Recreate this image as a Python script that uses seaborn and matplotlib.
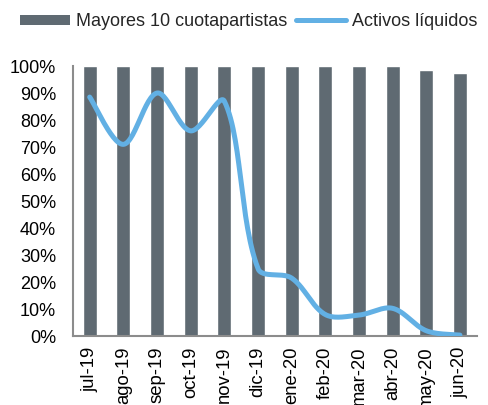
import numpy as np
import pandas as pd
import matplotlib
matplotlib.use("Agg")
import matplotlib.pyplot as plt
from matplotlib.patches import Patch
from matplotlib.lines import Line2D
import seaborn as sns

sns.set_style("white")
plt.rcParams['font.family'] = ['Liberation Sans', 'DejaVu Sans']

# Datos
meses = ['jul-19', 'ago-19', 'sep-19', 'oct-19', 'nov-19', 'dic-19',
         'ene-20', 'feb-20', 'mar-20', 'abr-20', 'may-20', 'jun-20']
mayores_10 = [1.00, 1.00, 1.00, 1.00, 1.00, 1.00, 1.00, 1.00, 1.00, 1.00, 0.986, 0.973]
activos_liquidos = [0.885, 0.71, 0.90, 0.76, 0.87, 0.25, 0.215, 0.08, 0.078, 0.103, 0.02, 0.004]

color_barra = '#5f6a72'
color_linea = '#62b0e4'


def suavizar(y, sx=33.7, sy=270.0, n=30):
    # curva suavizada parecida a la de Excel (bezier con tangentes
    # ponderadas por la longitud de cada tramo, medida en pixeles)
    y = np.asarray(y, dtype=float)
    P = np.column_stack([np.arange(len(y)) * sx, y * sy])
    m = len(P)
    xs, ys = [], []
    for i in range(m - 1):
        p0 = P[max(i - 1, 0)]
        p1 = P[i]
        p2 = P[i + 1]
        p3 = P[min(i + 2, m - 1)]
        d01 = np.linalg.norm(p1 - p0)
        d12 = np.linalg.norm(p2 - p1)
        d23 = np.linalg.norm(p3 - p2)
        w1 = d12 / (d01 + d12) if d01 > 0 else 0.5
        w2 = d12 / (d12 + d23) if d23 > 0 else 0.5
        c1 = p1 + (p2 - p0) * w1 / 3
        c2 = p2 - (p3 - p1) * w2 / 3
        t = np.linspace(0, 1, n)[:, None]
        pts = ((1 - t) ** 3) * p1 + 3 * ((1 - t) ** 2) * t * c1 + 3 * (1 - t) * t ** 2 * c2 + t ** 3 * p2
        xs.extend(pts[:, 0] / sx)
        ys.extend(pts[:, 1] / sy)
    return np.array(xs), np.array(ys)


df = pd.DataFrame({'mes': meses, 'mayores': mayores_10, 'activos': activos_liquidos})

fig = plt.figure(figsize=(4.89, 4.05), dpi=100)
ax = fig.add_axes([0.149, 0.170, 0.826, 0.667])

sns.barplot(data=df, x='mes', y='mayores', color=color_barra, width=0.42,
            saturation=1, ax=ax)
xs, ys = suavizar(df['activos'])
ax.plot(xs, ys, color=color_linea, lw=3.6, solid_capstyle='round', zorder=3)

ax.set_ylim(0, 1)
ax.set_xlim(-0.5, len(meses) - 0.5)
ax.set_yticks(np.arange(0, 1.01, 0.1))
ax.set_yticklabels([f'{int(round(v * 100))}%' for v in np.arange(0, 1.01, 0.1)])
ax.set_xticks(range(len(meses)))
ax.set_xticklabels(meses, rotation=90)
ax.tick_params(axis='both', length=0, colors='black')
ax.tick_params(axis='x', pad=7.5, labelsize=13.3)
ax.tick_params(axis='y', pad=12, labelsize=13)
ax.set_xlabel('')
ax.set_ylabel('')

for s in ['top', 'right']:
    ax.spines[s].set_visible(False)
for s in ['left', 'bottom']:
    ax.spines[s].set_color('#8c8c8c')
    ax.spines[s].set_linewidth(1.5)

handles = [Patch(facecolor=color_barra, edgecolor='none'),
           Line2D([0], [0], color=color_linea, lw=3.6, solid_capstyle='round')]
fig.legend(handles, ['Mayores 10 cuotapartistas', 'Activos líquidos'],
           loc='center', bbox_to_anchor=(0.508, 0.946), ncol=2, frameon=False,
           fontsize=13, handlelength=2.8, handleheight=0.55, handletextpad=0.3,
           columnspacing=0.5)

fig.savefig('out.png', dpi=100)
